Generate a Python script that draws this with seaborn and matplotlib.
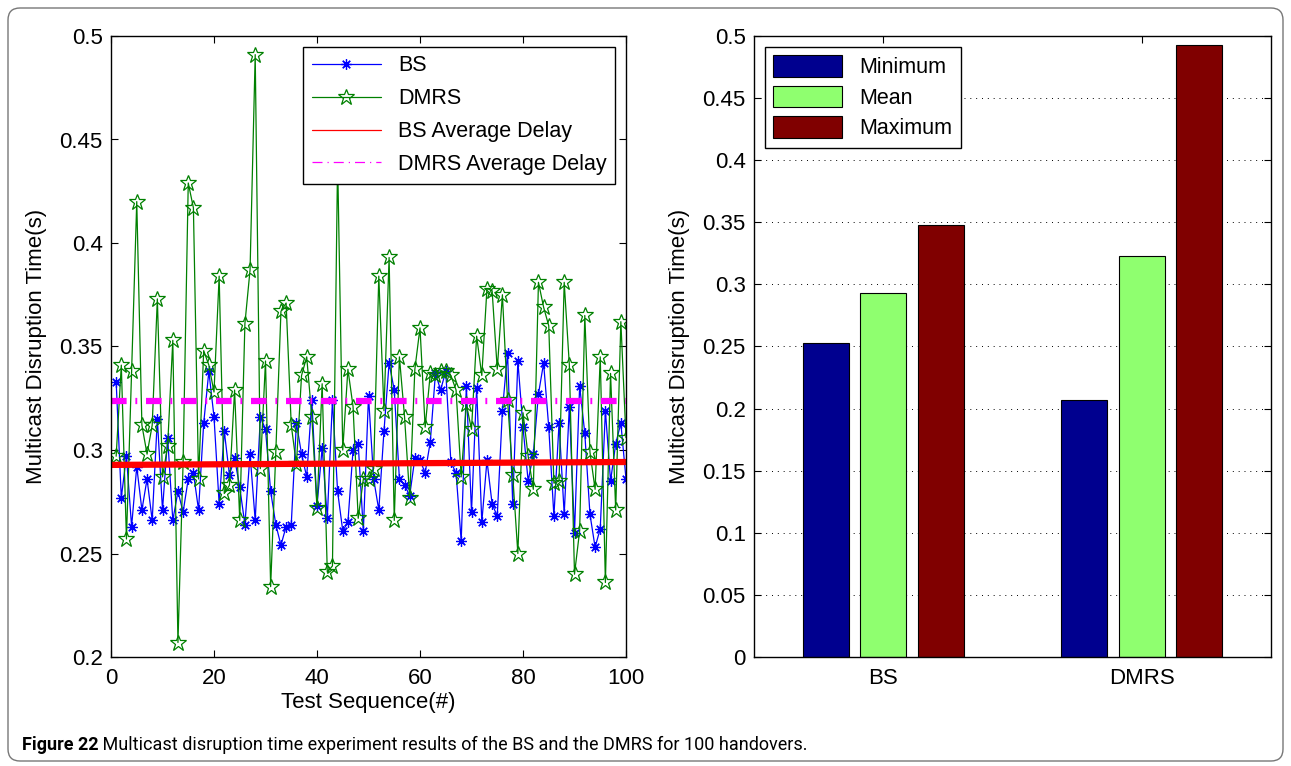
import numpy as np
import pandas as pd
import matplotlib
matplotlib.use('Agg')
import matplotlib.pyplot as plt
from matplotlib.lines import Line2D
from matplotlib.patches import FancyBboxPatch
from matplotlib.ticker import FuncFormatter, MultipleLocator
from matplotlib.transforms import IdentityTransform
import seaborn as sns

# ---- data ----
test_seq = list(range(1, 101))
bs_delay = [
    0.333, 0.277, 0.297, 0.263, 0.292, 0.271, 0.286, 0.266, 0.315, 0.271,
    0.306, 0.266, 0.280, 0.270, 0.286, 0.289, 0.271, 0.313, 0.338, 0.316,
    0.274, 0.309, 0.288, 0.296, 0.282, 0.264, 0.298, 0.266, 0.316, 0.310,
    0.280, 0.264, 0.254, 0.263, 0.264, 0.313, 0.298, 0.287, 0.324, 0.273,
    0.301, 0.267, 0.324, 0.280, 0.261, 0.265, 0.300, 0.303, 0.261, 0.326,
    0.286, 0.271, 0.309, 0.342, 0.329, 0.286, 0.283, 0.278, 0.296, 0.295,
    0.289, 0.304, 0.337, 0.329, 0.338, 0.294, 0.289, 0.256, 0.331, 0.270,
    0.330, 0.265, 0.295, 0.274, 0.268, 0.319, 0.347, 0.274, 0.343, 0.311,
    0.285, 0.298, 0.327, 0.342, 0.311, 0.268, 0.313, 0.269, 0.321, 0.260,
    0.331, 0.308, 0.269, 0.253, 0.262, 0.319, 0.285, 0.303, 0.313, 0.286,
]
dmrs_delay = [
    0.297, 0.341, 0.257, 0.338, 0.420, 0.312, 0.298, 0.312, 0.373, 0.287,
    0.302, 0.353, 0.207, 0.294, 0.429, 0.417, 0.286, 0.348, 0.341, 0.328,
    0.384, 0.279, 0.283, 0.329, 0.266, 0.361, 0.387, 0.491, 0.291, 0.343,
    0.234, 0.299, 0.367, 0.371, 0.312, 0.293, 0.336, 0.345, 0.316, 0.272,
    0.332, 0.241, 0.244, 0.440, 0.300, 0.339, 0.321, 0.267, 0.286, 0.286,
    0.291, 0.384, 0.319, 0.393, 0.266, 0.345, 0.316, 0.277, 0.339, 0.359,
    0.311, 0.337, 0.336, 0.338, 0.338, 0.336, 0.329, 0.287, 0.322, 0.310,
    0.355, 0.336, 0.378, 0.377, 0.339, 0.375, 0.324, 0.288, 0.250, 0.318,
    0.297, 0.281, 0.381, 0.369, 0.360, 0.284, 0.285, 0.381, 0.341, 0.240,
    0.261, 0.365, 0.299, 0.281, 0.345, 0.236, 0.337, 0.271, 0.362, 0.306,
]
avg_x = [0, 100]
bs_avg = [0.2928, 0.2942]
dmrs_avg = [0.3235, 0.3235]

groups = ['BS', 'DMRS']
stats = ['Minimum', 'Mean', 'Maximum']
bs_stats = [0.253, 0.293, 0.348]
dmrs_stats = [0.207, 0.323, 0.493]
stat_colors = ['#00008F', '#8FFF6F', '#800000']

caption_bold = 'Figure 22'
caption_text = ' Multicast disruption time experiment results of the BS and the DMRS for 100 handovers.'

sns.set_theme(style='ticks', rc={
    'axes.edgecolor': 'black', 'axes.linewidth': 1.0,
    'xtick.color': 'black', 'ytick.color': 'black',
    'text.color': 'black', 'axes.labelcolor': 'black',
    'xtick.direction': 'in', 'ytick.direction': 'in',
})
plt.rcParams['font.family'] = ['Liberation Sans', 'DejaVu Sans']

W, H = 1291, 766
fig = plt.figure(figsize=(W / 100, H / 100), dpi=100)


def box(x0, y0, x1, y1):
    # pixel box measured from top-left -> figure fraction
    return [x0 / W, 1 - y1 / H, (x1 - x0) / W, (y1 - y0) / H]


ax1 = fig.add_axes(box(111, 36, 626, 657))
ax2 = fig.add_axes(box(754, 36, 1271, 657))

fmt = FuncFormatter(lambda v, p: '%g' % round(v, 4))

# ---- left: per-handover delays ----
sns.lineplot(x=test_seq, y=bs_delay, ax=ax1, color='#0000FF', linewidth=0.9,
             marker=(8, 2, 0), markersize=7.5, markeredgecolor='#0000FF',
             markeredgewidth=0.9)
sns.lineplot(x=test_seq, y=dmrs_delay, ax=ax1, color='#008000', linewidth=0.9,
             marker='*', markersize=12, markerfacecolor='none',
             markeredgecolor='#008000', markeredgewidth=0.9)
ax1.plot(avg_x, bs_avg, color='#FF0000', linewidth=4.5, solid_capstyle='butt')
ax1.plot(avg_x, dmrs_avg, color='#FF00FF', linewidth=4.5,
         linestyle=(0, (2.5, 1.4, 0.3, 1.4)), dash_capstyle='butt')

ax1.set_xlim(0, 100)
ax1.set_ylim(0.2, 0.5)
ax1.xaxis.set_major_locator(MultipleLocator(20))
ax1.yaxis.set_major_locator(MultipleLocator(0.05))
ax1.yaxis.set_major_formatter(fmt)
ax1.set_xlabel('Test Sequence(#)', fontsize=16, labelpad=2)
ax1.set_ylabel('Multicast Disruption Time(s)', fontsize=16, labelpad=9)

handles = [
    Line2D([], [], color='#0000FF', lw=0.9, marker=(8, 2, 0), markersize=7.5,
           markeredgecolor='#0000FF', markeredgewidth=0.9),
    Line2D([], [], color='#008000', lw=0.9, marker='*', markersize=12,
           markerfacecolor='none', markeredgecolor='#008000', markeredgewidth=0.9),
    Line2D([], [], color='#FF0000', lw=0.9),
    Line2D([], [], color='#FF00FF', lw=0.9, linestyle=(0, (8, 4, 1, 4))),
]
leg1 = ax1.legend(handles, ['BS', 'DMRS', 'BS Average Delay', 'DMRS Average Delay'],
                  loc='upper right', fontsize=15.5, fancybox=False, framealpha=1,
                  edgecolor='black', handlelength=3.2, labelspacing=0.55,
                  borderaxespad=0.5)
leg1.get_frame().set_linewidth(1.0)

# ---- right: min / mean / max bars ----
df = pd.DataFrame({
    'group': np.repeat(groups, len(stats)),
    'stat': stats * len(groups),
    'value': bs_stats + dmrs_stats,
})
sns.barplot(data=df, x='group', y='value', hue='stat', hue_order=stats,
            palette=dict(zip(stats, stat_colors)), saturation=1,
            width=0.666, gap=0.2, edgecolor='black', linewidth=0.8,
            errorbar=None, ax=ax2)
ax2.set_xlim(-0.5, 1.5)
ax2.set_ylim(0, 0.5)
ax2.yaxis.set_major_locator(MultipleLocator(0.05))
ax2.yaxis.set_major_formatter(fmt)
ax2.set_axisbelow(True)
ax2.yaxis.grid(True, linestyle=(0, (1, 5)), color='black', linewidth=0.7)
ax2.set_xlabel('')
ax2.set_ylabel('Multicast Disruption Time(s)', fontsize=16, labelpad=9)
leg2 = ax2.legend(loc='upper left', fontsize=15.5, fancybox=False, framealpha=1,
                  edgecolor='black', handlelength=3.2, handleheight=1.15,
                  labelspacing=0.35, borderaxespad=0.5)
leg2.get_frame().set_linewidth(1.0)

for ax in (ax1, ax2):
    ax.tick_params(axis='both', which='major', direction='in', length=5,
                   width=0.8, top=True, right=True, bottom=True, left=True,
                   labelsize=16, pad=8)
    ax.tick_params(axis='y', pad=6)
    for s in ax.spines.values():
        s.set_visible(True)
        s.set_linewidth(1.0)

# ---- caption and rounded frame ----
frame = FancyBboxPatch((8, 5), W - 16, H - 13, boxstyle='round,pad=0,rounding_size=12',
                       transform=IdentityTransform(), facecolor='none',
                       edgecolor='#777777', linewidth=1.0)
fig.patches.append(frame)

cap_y = 1 - 745 / H
t1 = fig.text(22 / W, cap_y, caption_bold, fontsize=13, fontweight='bold',
              family=['Roboto', 'DejaVu Sans'], va='center', ha='left')
fig.canvas.draw()
bb = t1.get_window_extent(renderer=fig.canvas.get_renderer())
fig.text(bb.x1 / W, cap_y, caption_text, fontsize=13,
         family=['Roboto', 'DejaVu Sans'], va='center', ha='left')

fig.savefig('out.png', dpi=100)
